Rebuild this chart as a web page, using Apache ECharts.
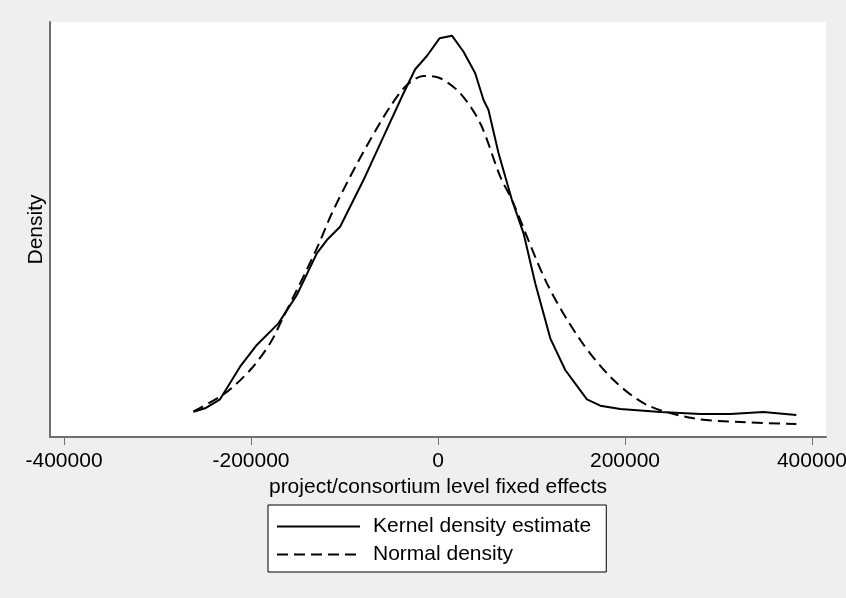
<!DOCTYPE html>
<html>
<head>
<meta charset="utf-8">
<script src="https://cdn.jsdelivr.net/npm/echarts@6/dist/echarts.min.js"></script>
<style>
html,body{margin:0;padding:0;background:#efefef;}
#chart{width:846px;height:598px;}
</style>
</head>
<body>
<div id="chart"></div>
<script>
// x: project/consortium level fixed effects; y: density in units of 1e-6
const kernelX = [-261600,-249100,-233100,-211700,-193800,-170700,-151000,-129600,-118900,-104700,-90400,-79700,-58300,-36900,-24400,-11900,1600,14900,27300,39800,48700,54000,64700,79100,91500,104000,120100,136100,159300,173600,195000,237800,280600,312800,348000,383300];
const kernelY = [0.147,0.186,0.289,0.663,0.912,1.160,1.485,1.963,2.115,2.268,2.574,2.803,3.300,3.798,4.073,4.225,4.428,4.458,4.274,4.027,3.721,3.606,3.113,2.574,2.192,1.619,0.988,0.625,0.289,0.216,0.178,0.143,0.120,0.120,0.143,0.109];
const normalX = [-261600,-227700,-200900,-179600,-165300,-151000,-129600,-113500,-94000,-72600,-51200,-33300,-15500,2400,23800,45200,66600,79100,116500,152200,187800,223600,273400,323400,383300];
const normalY = [0.150,0.358,0.625,0.931,1.236,1.542,2.020,2.422,2.841,3.262,3.644,3.893,3.996,3.970,3.798,3.454,2.841,2.574,1.619,0.969,0.510,0.224,0.071,0.029,0.006];
const xTicks = [-400000,-200000,0,200000,400000];
const seriesNames = ['Kernel density estimate','Normal density'];

const FONT = 'Liberation Sans, Arial, Helvetica, sans-serif';
const chart = echarts.init(document.getElementById('chart'));
chart.setOption({
  animation: false,
  backgroundColor: '#efefef',
  textStyle: {fontFamily: FONT, color: '#000'},
  grid: {left: 50, right: 20, top: 22, bottom: 161, show: true, backgroundColor: '#fff', borderWidth: 0, outerBoundsMode: 'none', containLabel: false},
  legend: {
    show: true,
    left: 268, top: 505, orient: 'vertical',
    backgroundColor: '#fff', borderColor: '#000', borderWidth: 1,
    padding: [11, 15, 7, 8], itemGap: 7,
    itemWidth: 83, itemHeight: 14,
    itemStyle: {opacity: 0},
    textStyle: {fontFamily: FONT, fontSize: 21, color: '#000', padding: [0, 0, 0, 8]},
    data: seriesNames
  },
  xAxis: {
    type: 'value', min: -415000, max: 415000,
    name: 'project/consortium level fixed effects', nameLocation: 'middle', nameGap: 35,
    nameTextStyle: {fontFamily: FONT, fontSize: 21, color: '#000'},
    axisLine: {show: true, onZero: false, lineStyle: {color: '#707070', width: 2}},
    axisTick: {show: true, customValues: xTicks, length: 8, lineStyle: {color: '#707070', width: 1}},
    axisLabel: {customValues: xTicks, margin: 14, fontFamily: FONT, fontSize: 21, color: '#000',
      showMinLabel: true, showMaxLabel: true, formatter: v => String(v)},
    splitLine: {show: false}
  },
  yAxis: {
    type: 'value', min: -0.143, max: 4.615,
    name: 'Density', nameLocation: 'middle', nameGap: 3,
    nameTextStyle: {fontFamily: FONT, fontSize: 21, color: '#000'},
    axisLine: {show: true, onZero: false, lineStyle: {color: '#707070', width: 2}},
    axisTick: {show: false}, axisLabel: {show: false}, splitLine: {show: false}
  },
  series: [
    {name: seriesNames[0], type: 'line', showSymbol: false, symbol: 'none',
     data: kernelX.map((x, i) => [x, kernelY[i]]),
     lineStyle: {color: '#000', width: 2}, itemStyle: {color: '#000'}},
    {name: seriesNames[1], type: 'line', showSymbol: false, symbol: 'none', smooth: 0.3,
     data: normalX.map((x, i) => [x, normalY[i]]),
     lineStyle: {color: '#000', width: 2, type: [11, 6]}, itemStyle: {color: '#000'}}
  ]
});
</script>
</body>
</html>
